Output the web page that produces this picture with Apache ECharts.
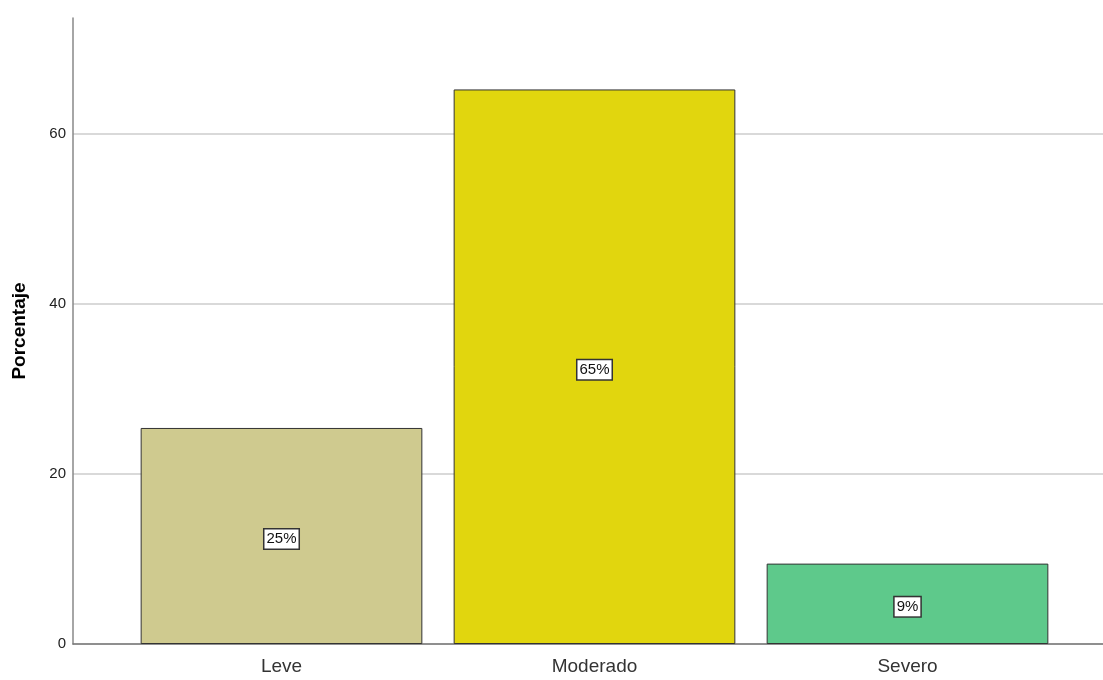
<!DOCTYPE html>
<html><head><meta charset="utf-8">
<script src="https://cdn.jsdelivr.net/npm/echarts@6/dist/echarts.min.js"></script>
<style>html,body{margin:0;padding:0;background:#fff}#c{width:1103px;height:680px}</style>
</head><body><div id="c"></div>
<script>
const categories = ['Leve', 'Moderado', 'Severo'];
const values = [25.4, 65.2, 9.45];
const colors = ['#cfca8f', '#e1d60e', '#5ec98b'];
const yTicks = [0, 20, 40, 60];
const yMax = 73.6;

const narrow = '"Liberation Sans Narrow", "Arial Narrow", "Liberation Sans", Arial, sans-serif';
const chart = echarts.init(document.getElementById('c'));
chart.setOption({
  animation: false,
  textStyle: { fontFamily: 'Liberation Sans, Arial, sans-serif' },
  grid: [
    { left: 73, right: 0, top: 18, bottom: 36 },
    { left: 125, right: 39, top: 18, bottom: 36 }
  ],
  xAxis: [
    { gridIndex: 0, type: 'value', min: 0, max: 1, axisLine: { show: true, onZero: false, lineStyle: { color: '#777', width: 1.5 } }, axisTick: { show: false }, axisLabel: { show: false }, splitLine: { show: false } },
    { gridIndex: 1, type: 'category', data: categories, axisLine: { show: false }, axisTick: { show: false },
      axisLabel: { fontSize: 19, color: '#333', margin: 13, fontFamily: narrow } }
  ],
  yAxis: [
    { gridIndex: 0, type: 'value', min: 0, max: yMax, interval: 20,
      name: 'Porcentaje', nameLocation: 'middle', nameRotate: 90, nameGap: 44,
      nameTextStyle: { fontSize: 19, fontWeight: 'bold', color: '#000' },
      axisLine: { show: true, lineStyle: { color: '#888', width: 1.5 } }, axisTick: { show: false },
      axisLabel: { fontSize: 15, color: '#222', margin: 7, showMaxLabel: false, fontFamily: narrow,
        formatter: v => yTicks.includes(v) ? String(v) : '' },
      splitLine: { show: true, lineStyle: { color: ['#ccc', '#ccc', '#ccc', '#ccc', 'rgba(0,0,0,0)'], width: 1.5 } } },
    { gridIndex: 1, type: 'value', min: 0, max: yMax, show: false, splitLine: { show: false } }
  ],
  series: [{
    type: 'bar', xAxisIndex: 1, yAxisIndex: 1,
    barCategoryGap: '10%',
    data: values.map((v, i) => ({ value: v, itemStyle: { color: colors[i] } })),
    itemStyle: { borderColor: '#333', borderWidth: 1 },
    label: { show: true, position: 'inside', offset: [0, 3], formatter: p => Math.round(p.value) + '%',
      fontSize: 15, fontFamily: narrow, color: '#111', backgroundColor: '#fff', borderColor: '#333', borderWidth: 1.5,
      padding: [3, 2, 1, 2] }
  }]
});
</script></body></html>
